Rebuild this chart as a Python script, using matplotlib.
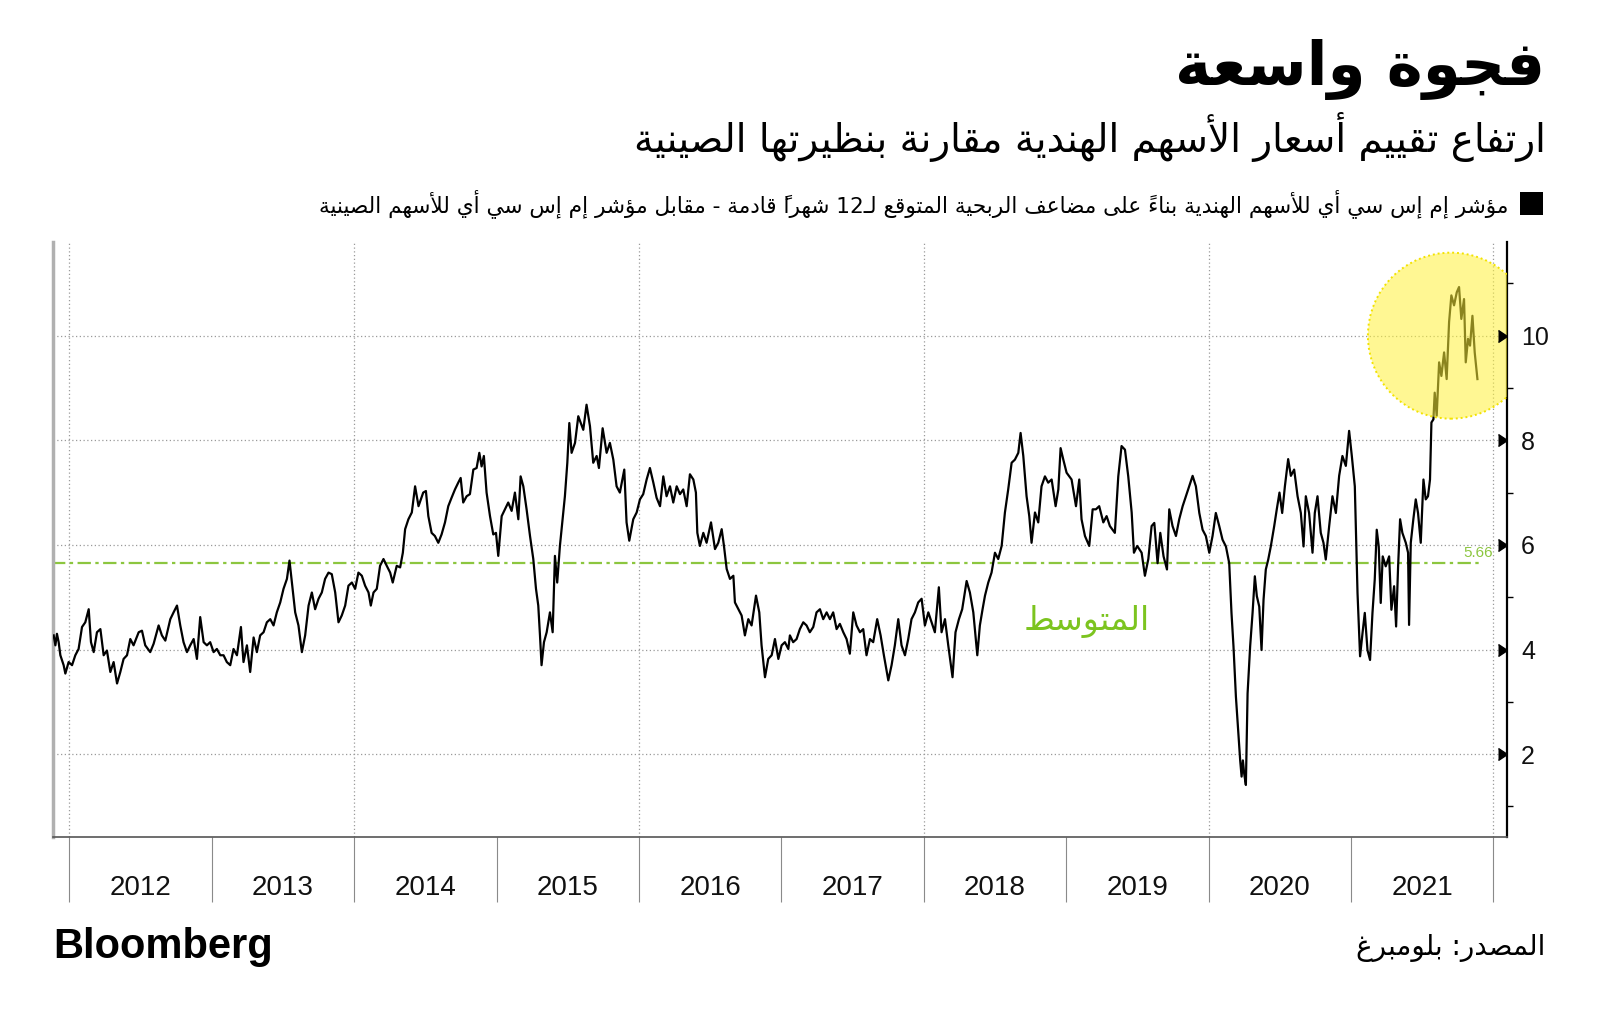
import numpy as np
import matplotlib
matplotlib.use("Agg")
from matplotlib import pyplot as plt
from matplotlib.patches import Ellipse, Rectangle
from matplotlib.transforms import blended_transform_factory

# MSCI India vs MSCI China, 12m forward P/E ratio  (decimal year, value)
pe_2012_2014 = [
    (2011.890, 4.27), (2011.902, 4.08), (2011.913, 4.30), (2011.925, 4.14), (2011.937, 3.89),
    (2011.960, 3.70), (2011.972, 3.54), (2011.995, 3.76), (2012.019, 3.70), (2012.042, 3.89),
    (2012.065, 4.01), (2012.089, 4.43), (2012.112, 4.52), (2012.136, 4.77), (2012.152, 4.14),
    (2012.171, 3.95), (2012.194, 4.33), (2012.218, 4.39), (2012.241, 3.89), (2012.264, 3.98),
    (2012.288, 3.57), (2012.311, 3.76), (2012.335, 3.35), (2012.358, 3.57), (2012.381, 3.82),
    (2012.405, 3.89), (2012.428, 4.20), (2012.451, 4.08), (2012.487, 4.33), (2012.510, 4.36),
    (2012.533, 4.08), (2012.568, 3.95), (2012.592, 4.11), (2012.627, 4.46), (2012.650, 4.27),
    (2012.674, 4.17), (2012.709, 4.58), (2012.732, 4.71), (2012.756, 4.84), (2012.779, 4.46),
    (2012.802, 4.14), (2012.826, 3.95), (2012.849, 4.08), (2012.873, 4.20), (2012.896, 3.82),
    (2012.919, 4.62), (2012.943, 4.14), (2012.966, 4.08), (2012.989, 4.14), (2013.013, 3.95),
    (2013.036, 4.01), (2013.060, 3.89), (2013.083, 3.89), (2013.106, 3.76), (2013.130, 3.70),
    (2013.153, 4.01), (2013.177, 3.89), (2013.205, 4.43), (2013.223, 3.76), (2013.247, 4.08),
    (2013.270, 3.57), (2013.294, 4.23), (2013.317, 3.95), (2013.340, 4.27), (2013.364, 4.33),
    (2013.387, 4.52), (2013.411, 4.58), (2013.434, 4.46), (2013.457, 4.71), (2013.481, 4.90),
    (2013.504, 5.16), (2013.528, 5.35), (2013.546, 5.70), (2013.563, 5.28), (2013.586, 4.71),
    (2013.609, 4.46), (2013.633, 3.95), (2013.656, 4.27), (2013.680, 4.84), (2013.703, 5.09),
    (2013.726, 4.77), (2013.750, 4.97), (2013.773, 5.09), (2013.796, 5.35), (2013.820, 5.47),
    (2013.843, 5.44), (2013.867, 5.09), (2013.890, 4.52), (2013.913, 4.65), (2013.937, 4.84),
    (2013.960, 5.22), (2013.984, 5.28), (2014.007, 5.16), (2014.030, 5.47), (2014.054, 5.41),
    (2014.077, 5.22), (2014.101, 5.09), (2014.117, 4.84), (2014.136, 5.09), (2014.159, 5.16),
    (2014.182, 5.60), (2014.206, 5.73), (2014.229, 5.60), (2014.253, 5.47), (2014.271, 5.28),
    (2014.299, 5.60), (2014.323, 5.57), (2014.342, 5.85), (2014.358, 6.30), (2014.381, 6.49),
    (2014.405, 6.62), (2014.428, 7.12), (2014.452, 6.74),
]
pe_2014_2017 = [
    (2014.485, 7.00), (2014.504, 7.03), (2014.521, 6.55), (2014.544, 6.23), (2014.567, 6.17),
    (2014.591, 6.04), (2014.614, 6.20), (2014.638, 6.43), (2014.661, 6.74), (2014.684, 6.90),
    (2014.708, 7.06), (2014.731, 7.19), (2014.748, 7.28), (2014.766, 6.81), (2014.790, 6.93),
    (2014.813, 6.97), (2014.837, 7.44), (2014.860, 7.47), (2014.879, 7.76), (2014.895, 7.50),
    (2014.911, 7.70), (2014.930, 7.00), (2014.954, 6.55), (2014.977, 6.20), (2014.996, 6.23),
    (2015.012, 5.79), (2015.036, 6.55), (2015.059, 6.68), (2015.082, 6.81), (2015.106, 6.65),
    (2015.129, 7.00), (2015.153, 6.49), (2015.169, 7.31), (2015.188, 7.12), (2015.211, 6.68),
    (2015.235, 6.17), (2015.258, 5.73), (2015.277, 5.16), (2015.293, 4.84), (2015.305, 4.27),
    (2015.316, 3.70), (2015.333, 4.14), (2015.352, 4.33), (2015.375, 4.71), (2015.394, 4.33),
    (2015.410, 5.79), (2015.426, 5.28), (2015.445, 5.98), (2015.464, 6.49), (2015.480, 6.93),
    (2015.497, 7.57), (2015.511, 8.33), (2015.527, 7.76), (2015.551, 7.95), (2015.574, 8.46),
    (2015.609, 8.20), (2015.632, 8.68), (2015.656, 8.27), (2015.679, 7.57), (2015.703, 7.70),
    (2015.719, 7.47), (2015.745, 8.23), (2015.773, 7.76), (2015.796, 7.95), (2015.820, 7.63),
    (2015.843, 7.12), (2015.866, 7.00), (2015.897, 7.44), (2015.913, 6.43), (2015.932, 6.08),
    (2015.960, 6.49), (2015.984, 6.62), (2016.007, 6.87), (2016.030, 6.97), (2016.054, 7.25),
    (2016.077, 7.47), (2016.101, 7.19), (2016.124, 6.90), (2016.148, 6.74), (2016.171, 7.31),
    (2016.194, 6.93), (2016.218, 7.12), (2016.241, 6.81), (2016.265, 7.12), (2016.288, 6.97),
    (2016.311, 7.06), (2016.335, 6.74), (2016.358, 7.35), (2016.382, 7.25), (2016.400, 7.00),
    (2016.410, 6.23), (2016.428, 5.98), (2016.452, 6.23), (2016.475, 6.04), (2016.506, 6.43),
    (2016.534, 5.92), (2016.557, 6.04), (2016.581, 6.30), (2016.597, 5.98), (2016.616, 5.54),
    (2016.639, 5.35), (2016.663, 5.41), (2016.674, 4.90), (2016.698, 4.77), (2016.721, 4.65),
    (2016.744, 4.27), (2016.768, 4.58), (2016.791, 4.46), (2016.822, 5.03), (2016.845, 4.71),
    (2016.861, 4.08), (2016.885, 3.47), (2016.908, 3.82), (2016.932, 3.89), (2016.955, 4.20),
    (2016.979, 3.82), (2017.002, 4.08), (2017.025, 4.14), (2017.049, 4.01),
]
pe_2017_2019 = [
    (2017.060, 4.27), (2017.083, 4.14), (2017.107, 4.20), (2017.130, 4.39), (2017.154, 4.52),
    (2017.177, 4.46), (2017.200, 4.33), (2017.224, 4.43), (2017.247, 4.71), (2017.271, 4.77),
    (2017.294, 4.58), (2017.318, 4.71), (2017.341, 4.58), (2017.364, 4.71), (2017.388, 4.39),
    (2017.411, 4.49), (2017.435, 4.33), (2017.458, 4.20), (2017.481, 3.92), (2017.505, 4.71),
    (2017.528, 4.46), (2017.552, 4.33), (2017.575, 4.39), (2017.598, 3.89), (2017.622, 4.20),
    (2017.645, 4.14), (2017.673, 4.58), (2017.697, 4.27), (2017.720, 3.89), (2017.751, 3.41),
    (2017.774, 3.70), (2017.797, 4.08), (2017.821, 4.58), (2017.844, 4.08), (2017.868, 3.89),
    (2017.891, 4.20), (2017.914, 4.58), (2017.938, 4.71), (2017.961, 4.90), (2017.985, 4.97),
    (2018.008, 4.46), (2018.032, 4.71), (2018.055, 4.52), (2018.078, 4.33), (2018.106, 5.19),
    (2018.125, 4.33), (2018.149, 4.58), (2018.172, 4.08), (2018.202, 3.47), (2018.223, 4.33),
    (2018.247, 4.58), (2018.270, 4.77), (2018.301, 5.31), (2018.324, 5.09), (2018.348, 4.71),
    (2018.376, 3.89), (2018.394, 4.46), (2018.413, 4.77), (2018.430, 5.03), (2018.453, 5.28),
    (2018.476, 5.47), (2018.500, 5.85), (2018.523, 5.73), (2018.547, 5.98), (2018.570, 6.62),
    (2018.593, 7.06), (2018.617, 7.57), (2018.640, 7.63), (2018.664, 7.76), (2018.680, 8.14),
    (2018.699, 7.70), (2018.722, 6.93), (2018.741, 6.55), (2018.757, 6.04), (2018.781, 6.62),
    (2018.804, 6.43), (2018.827, 7.12), (2018.851, 7.31), (2018.874, 7.19), (2018.898, 7.25),
    (2018.926, 6.74), (2018.945, 7.06), (2018.961, 7.85), (2018.980, 7.63), (2019.003, 7.38),
    (2019.038, 7.25), (2019.069, 6.74), (2019.092, 7.25), (2019.108, 6.49), (2019.132, 6.17),
    (2019.162, 5.98), (2019.186, 6.68), (2019.209, 6.68), (2019.232, 6.74), (2019.261, 6.43),
    (2019.284, 6.55), (2019.307, 6.36), (2019.342, 6.23), (2019.366, 7.31), (2019.389, 7.89),
    (2019.413, 7.82), (2019.436, 7.31), (2019.460, 6.62), (2019.476, 5.85), (2019.499, 5.98),
    (2019.530, 5.85), (2019.553, 5.41), (2019.577, 5.73), (2019.600, 6.36),
]
pe_2019_2021 = [
    (2019.619, 6.42), (2019.642, 5.65), (2019.661, 6.23), (2019.684, 5.78), (2019.708, 5.53),
    (2019.724, 6.68), (2019.747, 6.36), (2019.771, 6.17), (2019.794, 6.49), (2019.818, 6.74),
    (2019.841, 6.93), (2019.864, 7.12), (2019.888, 7.32), (2019.911, 7.12), (2019.935, 6.61),
    (2019.958, 6.29), (2019.981, 6.17), (2020.005, 5.85), (2020.028, 6.17), (2020.051, 6.61),
    (2020.075, 6.36), (2020.098, 6.10), (2020.122, 5.97), (2020.145, 5.65), (2020.161, 4.70),
    (2020.175, 4.06), (2020.192, 3.10), (2020.208, 2.46), (2020.222, 1.88), (2020.232, 1.57),
    (2020.241, 1.88), (2020.250, 1.63), (2020.262, 1.41), (2020.274, 3.16), (2020.292, 4.06),
    (2020.309, 4.70), (2020.325, 5.40), (2020.339, 5.02), (2020.356, 4.82), (2020.372, 3.99),
    (2020.386, 4.95), (2020.402, 5.53), (2020.419, 5.72), (2020.437, 5.97), (2020.461, 6.36),
    (2020.479, 6.68), (2020.498, 7.00), (2020.517, 6.61), (2020.536, 7.12), (2020.559, 7.64),
    (2020.578, 7.32), (2020.601, 7.44), (2020.625, 6.93), (2020.648, 6.61), (2020.667, 5.97),
    (2020.683, 6.93), (2020.706, 6.61), (2020.730, 5.85), (2020.746, 6.61), (2020.765, 6.93),
    (2020.788, 6.23), (2020.807, 6.04), (2020.823, 5.72), (2020.847, 6.36), (2020.870, 6.93),
    (2020.894, 6.61), (2020.917, 7.32), (2020.940, 7.70), (2020.964, 7.51), (2020.987, 8.18),
    (2021.006, 7.70), (2021.027, 7.12), (2021.046, 5.08), (2021.064, 3.87), (2021.081, 4.31),
    (2021.097, 4.70), (2021.116, 3.99), (2021.134, 3.80), (2021.151, 4.70), (2021.167, 5.34),
    (2021.181, 6.29), (2021.195, 5.97), (2021.209, 4.89), (2021.223, 5.78), (2021.244, 5.59),
    (2021.268, 5.78), (2021.284, 4.76), (2021.303, 5.21), (2021.317, 4.44), (2021.331, 5.59),
    (2021.345, 6.49), (2021.361, 6.23), (2021.385, 6.04), (2021.401, 5.85), (2021.408, 4.47),
    (2021.420, 6.04), (2021.438, 6.49), (2021.455, 6.87), (2021.471, 6.61), (2021.490, 6.04),
    (2021.509, 7.25), (2021.525, 6.87), (2021.541, 6.93), (2021.555, 7.25), (2021.565, 8.34),
    (2021.579, 8.40), (2021.588, 8.91), (2021.602, 8.47), (2021.619, 9.49), (2021.635, 9.23),
    (2021.654, 9.68), (2021.672, 9.17), (2021.689, 10.26), (2021.705, 10.77), (2021.724, 10.58),
    (2021.743, 10.83), (2021.759, 10.93), (2021.775, 10.32), (2021.794, 10.70), (2021.806, 9.49),
    (2021.822, 9.94), (2021.836, 9.81), (2021.853, 10.38), (2021.869, 9.68), (2021.888, 9.17),
]
mean_pe = 5.66
years = [2012, 2013, 2014, 2015, 2016, 2017, 2018, 2019, 2020, 2021]
yticks = [2, 4, 6, 8, 10]

title = "فجوة واسعة"
subtitle = "ارتفاع تقييم أسعار الأسهم الهندية مقارنة بنظيرتها الصينية"
legend_label = ("مؤشر إم إس سي أي للأسهم الهندية بناءً على مضاعف الربحية المتوقع لـ12 شهراً قادمة"
                " - مقابل مؤشر إم إس سي أي للأسهم الصينية")
mean_label = "المتوسط"
source = "المصدر: بلومبرغ"

# --- arabic shaping: matplotlib puts glyphs left to right without joining them
AR_LETTERS = "ءآأؤإئابةتثجحخدذرزسشصضطظعغفقكلمنهوىي"
AR_NFORMS = [1, 2, 2, 2, 2, 4, 2, 4, 2, 4, 4, 4, 4, 4, 2, 2, 2, 2,
             4, 4, 4, 4, 4, 4, 4, 4, 4, 4, 4, 4, 4, 4, 4, 2, 2, 4]
FORMS = {}
code = 0xFE80
for ch, n in zip(AR_LETTERS, AR_NFORMS):
    FORMS[ch] = [chr(code + i) for i in range(n)]  # isolated, final, initial, medial
    code += n
LAM_ALEF = {"آ": 0xFEF5, "أ": 0xFEF7, "إ": 0xFEF9, "ا": 0xFEFB}
TATWEEL = "\u0640"


def is_mark(c):
    return "\u064B" <= c <= "\u0652"


def joins_next(c):
    return c == TATWEEL or (c in FORMS and len(FORMS[c]) == 4)


def joins_prev(c):
    return c == TATWEEL or (c in FORMS and len(FORMS[c]) >= 2)


def ar(text):
    clusters = []
    for c in text:
        if is_mark(c) and clusters:
            clusters[-1][1] += c
        else:
            clusters.append([c, ""])
    out = []
    i = 0
    while i < len(clusters):
        c, marks = clusters[i]
        prev = clusters[i - 1][0] if i > 0 else ""
        nxt = clusters[i + 1][0] if i + 1 < len(clusters) else ""
        p = joins_next(prev)
        if c == "ل" and nxt in LAM_ALEF:
            out.append(marks + clusters[i + 1][1] + chr(LAM_ALEF[nxt] + (1 if p else 0)))
            i += 2
            continue
        if c in FORMS:
            f = FORMS[c]
            nx = joins_next(c) and joins_prev(nxt)
            p = p and joins_prev(c)
            if len(f) == 4:
                k = 3 if (p and nx) else 1 if p else 2 if nx else 0
            elif len(f) == 2:
                k = 1 if p else 0
            else:
                k = 0
            c = f[k]
        # the mark glyph is drawn to the right of the pen, so it goes first
        out.append(marks + c)
        i += 1
    out.reverse()
    res, run = [], []
    for cl in out:
        if cl[0].isascii() and (cl[0].isalnum() or cl[0] == "."):
            run.append(cl)
        else:
            res.extend(reversed(run))
            run = []
            res.append(cl)
    res.extend(reversed(run))
    return "".join(res)


AR_FONT = ["DejaVu Sans"]
NUM_FONT = ["Liberation Sans", "DejaVu Sans"]
GREEN = "#8cc63f"

pts = pe_2012_2014 + pe_2014_2017 + pe_2017_2019 + pe_2019_2021
t = np.array([p[0] for p in pts])
v = np.array([p[1] for p in pts])

fig = plt.figure(figsize=(16, 10.23), dpi=100)
fig.patch.set_facecolor("white")
ax = fig.add_axes([0.0331, 0.1818, 0.9088, 0.5816])
ax.set_xlim(2011.885, 2022.096)
ax.set_ylim(0.415, 11.79)

# grid
for x in range(2012, 2023, 2):
    ax.axvline(x, color="#9a9a9a", lw=0.9, ls=(0, (1, 2)), zorder=1)
for y in yticks:
    ax.axhline(y, color="#9a9a9a", lw=0.9, ls=(0, (1, 2)), zorder=1)

ax.plot([t[0] - 0.01, 2021.91], [mean_pe, mean_pe], color=GREEN, lw=1.6,
        ls=(0, (6, 2, 1.5, 2)), zorder=2)
ax.text(2022.0, mean_pe + 0.05, "%.2f" % mean_pe, color=GREEN, fontsize=11,
        family=NUM_FONT, ha="right", va="bottom", zorder=2)
ax.text(2019.146, 4.53, ar(mean_label), color="#7cc41f", fontsize=24,
        family=AR_FONT, ha="center", va="center", zorder=2)

ax.plot(t, v, color="black", lw=1.6, zorder=3)

circle = Ellipse((2021.702, 10.0), 1.166, 3.174, facecolor="#fff23a", alpha=0.55,
                 edgecolor="none", zorder=4)
ax.add_patch(circle)
ax.add_patch(Ellipse((2021.702, 10.0), 1.166, 3.174, facecolor="none",
                     edgecolor="#f2e200", lw=1.4, ls=(0, (1, 1.5)), zorder=4))

# spines
ax.spines["top"].set_visible(False)
ax.spines["left"].set_color("#b0b0b0")
ax.spines["left"].set_linewidth(2.5)
ax.spines["bottom"].set_color("#555555")
ax.spines["bottom"].set_linewidth(1.2)
ax.spines["right"].set_color("black")
ax.spines["right"].set_linewidth(1.6)

# x axis: year boundary ticks, labels in the middle of each year
ax.set_xticks(range(2012, 2023))
ax.set_xticklabels([])
ax.set_xticks([y + 0.5 for y in years], minor=True)
ax.set_xticklabels([str(y) for y in years], minor=True, family=NUM_FONT, fontsize=20)
ax.tick_params(axis="x", which="major", length=47, width=0.8, color="#8a8a8a", direction="out")
ax.tick_params(axis="x", which="minor", length=0, pad=27, labelcolor="#111111")

# y axis on the right
ax.yaxis.tick_right()
ax.set_yticks(yticks)
ax.set_yticklabels([str(y) for y in yticks], family=NUM_FONT, fontsize=18)
ax.set_yticks([1, 3, 5, 7, 9, 11], minor=True)
ax.tick_params(axis="y", which="major", length=0, pad=10, labelcolor="#111111")
ax.tick_params(axis="y", which="minor", length=4, width=1.0, color="black", direction="out")
trans = blended_transform_factory(ax.transAxes, ax.transData)
ax.plot([1.0] * len(yticks), yticks, ls="none", marker=5, markersize=9,
        color="black", transform=trans, clip_on=False, zorder=5)

# titles
fig.text(0.966, 0.932, ar(title), family=AR_FONT, fontweight="bold", fontsize=44,
         ha="right", va="center")
fig.text(0.966, 0.866, ar(subtitle), family=AR_FONT, fontsize=28, ha="right", va="center")
fig.add_artist(Rectangle((0.95, 0.7898), 0.0144, 0.0225, transform=fig.transFigure,
                         facecolor="black", edgecolor="none"))
fig.text(0.9425, 0.8006, ar(legend_label), family=AR_FONT, fontsize=15.6,
         ha="right", va="center")

fig.text(0.033, 0.074, "Bloomberg", family=NUM_FONT, fontweight="bold", fontsize=30,
         ha="left", va="center")
fig.text(0.966, 0.073, ar(source), family=AR_FONT, fontsize=20, ha="right", va="center")

fig.savefig("out.png", dpi=100, facecolor="white")
